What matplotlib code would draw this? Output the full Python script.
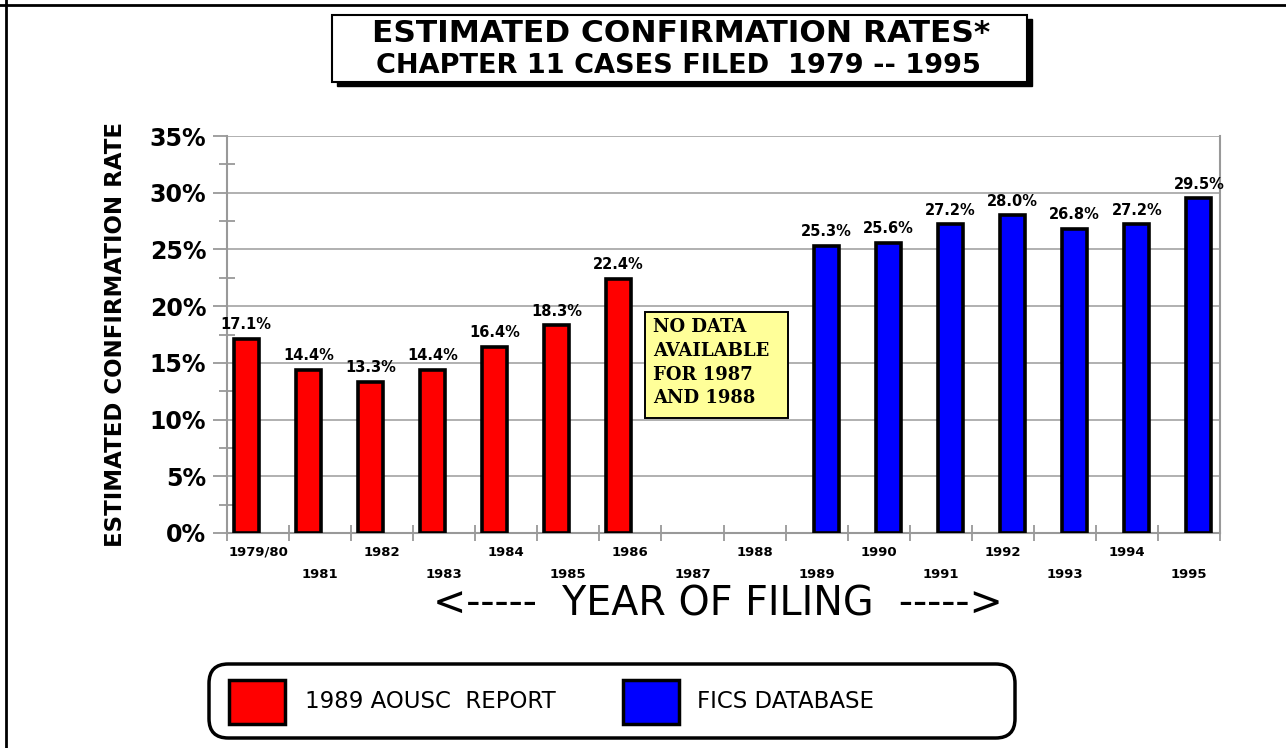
import matplotlib
matplotlib.use("Agg")
import matplotlib.pyplot as plt
from matplotlib.patches import Rectangle, FancyBboxPatch
from matplotlib.lines import Line2D

# data
years = ["1979/80", "1981", "1982", "1983", "1984", "1985", "1986", "1987",
         "1988", "1989", "1990", "1991", "1992", "1993", "1994", "1995"]
aousc_years = ["1979/80", "1981", "1982", "1983", "1984", "1985", "1986"]
aousc_rates = [17.1, 14.4, 13.3, 14.4, 16.4, 18.3, 22.4]
fics_years = ["1989", "1990", "1991", "1992", "1993", "1994", "1995"]
fics_rates = [25.3, 25.6, 27.2, 28.0, 26.8, 27.2, 29.5]
y_ticks = [0, 5, 10, 15, 20, 25, 30, 35]

W, H = 1286, 748
SANS = ["DejaVu Sans"]
SERIF = ["DejaVu Serif"]


def fx(px):
    return px / W


def fy(py):
    return 1 - py / H


fig = plt.figure(figsize=(W / 100, H / 100), dpi=100)
ax_w = fx(1220) - fx(227)
ax = fig.add_axes([fx(227), fy(533), ax_w, fy(136) - fy(533)])

pos = {y: i for i, y in enumerate(years)}
red_x = [pos[y] + 0.31 for y in aousc_years]
blue_x = [pos[y] + 0.66 for y in fics_years]

ax.bar(red_x, aousc_rates, width=0.4, color="#ff0000", edgecolor="black",
       linewidth=2.6, zorder=3, label="1989 AOUSC  REPORT")
ax.bar(blue_x, fics_rates, width=0.4, color="#0000ff", edgecolor="black",
       linewidth=2.6, zorder=3, label="FICS DATABASE")

# value labels
for x, v in zip(red_x + blue_x, aousc_rates + fics_rates):
    ax.text(x, v + 0.6, "%.1f%%" % v, ha="center", va="bottom",
            fontsize=10.5, fontweight="bold", family=SANS, zorder=4)

ax.set_xlim(0, len(years))
ax.set_ylim(0, 35)

# y axis
ax.set_yticks(y_ticks)
ax.set_yticklabels(["%d%%" % t for t in y_ticks], fontsize=17,
                   fontweight="bold", family=SANS)
ax.set_yticks([t + 2.5 for t in y_ticks[:-1]], minor=True)
ax.tick_params(axis="y", which="major", direction="out", length=10,
               width=1.3, color="#999999", pad=5)
ax.tick_params(axis="y", which="minor", direction="inout", length=11,
               width=1.3, color="#999999")
ax.grid(axis="y", which="major", color="#aaaaaa", linewidth=1.3, zorder=0)

# x axis: ticks at category boundaries, labels at centres in two rows
ax.set_xticks(range(len(years) + 1))
ax.set_xticklabels([])
ax.set_xticks([i + 0.5 for i in range(len(years))], minor=True)
ax.set_xticklabels([y if i % 2 == 0 else "\n" + y for i, y in enumerate(years)],
                   minor=True, fontsize=9.5, fontweight="bold", family=SANS,
                   linespacing=2.0)
ax.tick_params(axis="x", which="major", direction="inout", length=12,
               width=1.3, color="#999999")
ax.tick_params(axis="x", which="minor", length=0, pad=9)

for s in ["left", "right", "bottom"]:
    ax.spines[s].set_color("#999999")
    ax.spines[s].set_linewidth(1.5)
ax.spines["top"].set_visible(False)

ax.set_ylabel("ESTIMATED CONFIRMATION RATE", fontsize=16.5, fontweight="bold",
              family=SANS)
ax.yaxis.set_label_coords(-(227 - 127) / 993, 0.5)

# note for the missing years (box and text)
ax.add_patch(Rectangle((6.735, 10.1), 2.3, 9.4, facecolor="#ffff99",
                       edgecolor="black", linewidth=1.4, zorder=5))
ax.text(6.87, 18.95, "NO DATA\nAVAILABLE\nFOR 1987\nAND 1988", ha="left", va="top",
        fontsize=13, fontweight="bold", family=SERIF,
        linespacing=1.41, zorder=6)

# x axis title
fig.text(fx(718), fy(604), "<-----  YEAR OF FILING  ----->", ha="center",
         va="center", fontsize=28.5, family=SANS)

# title box with shadow
fig.add_artist(Rectangle((fx(337), fy(86)), fx(1032) - fx(337), fy(19) - fy(86),
                         transform=fig.transFigure, facecolor="black",
                         edgecolor="black"))
fig.add_artist(Rectangle((fx(332), fy(82)), fx(1027) - fx(332), fy(15) - fy(82),
                         transform=fig.transFigure, facecolor="white",
                         edgecolor="black", linewidth=1.5))
fig.text(fx(681), fy(34), "ESTIMATED CONFIRMATION RATES*", ha="center",
         va="center", fontsize=22.5, fontweight="bold", family=SANS)
fig.text(fx(678), fy(66), "CHAPTER 11 CASES FILED  1979 -- 1995", ha="center",
         va="center", fontsize=19.5, fontweight="bold", family=SANS)

# legend
fig.add_artist(FancyBboxPatch((fx(209), fy(738)), fx(1015) - fx(209),
                              fy(664) - fy(738),
                              boxstyle="round,pad=0,rounding_size=0.015",
                              transform=fig.transFigure, facecolor="white",
                              edgecolor="black", linewidth=2.5,
                              mutation_aspect=W / H))
for x0, c, lab, tx in [(229, "#ff0000", "1989 AOUSC  REPORT", 305),
                       (623, "#0000ff", "FICS DATABASE", 697)]:
    fig.add_artist(Rectangle((fx(x0), fy(724)), fx(56), fy(680) - fy(724),
                             transform=fig.transFigure, facecolor=c,
                             edgecolor="black", linewidth=2.5))
    fig.text(fx(tx), fy(702), lab, ha="left", va="center", fontsize=16.5,
             family=SANS)

# outer border lines (top and left)
fig.add_artist(Line2D([0, 1], [fy(5), fy(5)], transform=fig.transFigure,
                      color="black", linewidth=2))
fig.add_artist(Line2D([fx(6), fx(6)], [0, 1], transform=fig.transFigure,
                      color="black", linewidth=2))

fig.savefig("out.png", dpi=100)
